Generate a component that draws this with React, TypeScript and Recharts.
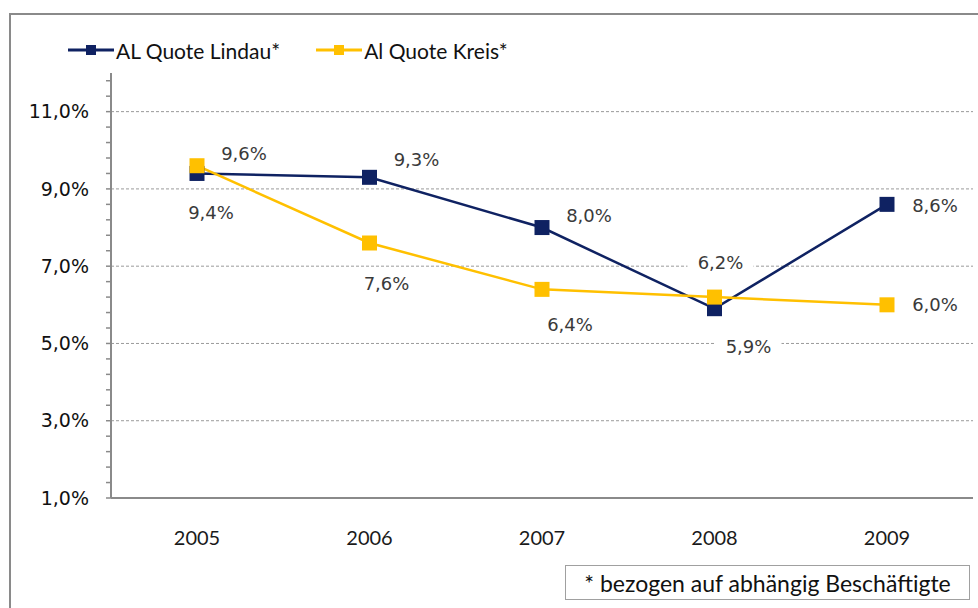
import React from 'react';
import { LineChart, Line, XAxis, YAxis, Legend, ReferenceLine } from 'recharts';

const years = ['2005', '2006', '2007', '2008', '2009'];
const lindau = [9.4, 9.3, 8.0, 5.9, 8.6];
const kreis = [9.6, 7.6, 6.4, 6.2, 6.0];
const yTicks = [1, 1.4, 1.8, 2.2, 2.6, 3, 3.4, 3.8, 4.2, 4.6, 5, 5.4, 5.8, 6.2, 6.6, 7, 7.4, 7.8, 8.2, 8.6, 9, 9.4, 9.8, 10.2, 10.6, 11, 11.4, 11.8];
const majorTicks = [1, 3, 5, 7, 9, 11];
const gridTicks = [3, 5, 7, 9, 11];
const boundaryTicks = [0, 1, 2, 3, 4, 5];
const seriesNames = ['AL Quote Lindau*', 'Al Quote Kreis*'];
const footnote = '* bezogen auf abhängig Beschäftigte';

const NAVY = '#0f2262';
const YELLOW = '#ffc000';

// label placement offsets (style only)
const lindauLabelOffsets = [[14, 39], [47, -18], [47, -12], [34, 38], [48, 1]];
const kreisLabelOffsets = [[47, -12], [17, 40], [28, 35], [6, -35], [48, 0]];

const data = years.map((year, i) => ({ year, lindau: lindau[i], kreis: kreis[i] }));

const fmt = (v: number) => v.toFixed(1).replace('.', ',') + '%';

const makeDot = (color: string, size: number) => (props: any) => {
  const { cx, cy, index } = props;
  if (cx == null || cy == null) return <g key={index} />;
  return <rect key={index} x={cx - size / 2} y={cy - size / 2} width={size} height={size} fill={color} />;
};

const makeLabel = (offs: number[][]) => (props: any) => {
  const { index, value } = props;
  const x = props.x ?? props.viewBox?.x;
  const y = props.y ?? props.viewBox?.y;
  if (x == null || y == null || value == null) return <g key={index} />;
  const [dx, dy] = offs[index] || [0, 0];
  return (
    <g key={index}>
      <rect x={x + dx - 33} y={y + dy - 12} width={66} height={24} fill="#ffffff" />
      <text x={x + dx} y={y + dy} textAnchor="middle" dominantBaseline="central"
        fontFamily="'DejaVu Sans', Verdana, sans-serif" fontSize={18} fill="#3a3a3a">
        {fmt(Number(value))}
      </text>
    </g>
  );
};

const LegendIcon = ({ color }: { color: string }) => (
  <svg width={46} height={14} style={{ display: 'block', marginRight: 2 }}>
    <line x1={0} y1={7} x2={46} y2={7} stroke={color} strokeWidth={3} />
    <rect x={18} y={2} width={10} height={10} fill={color} />
  </svg>
);

const renderLegend = () => (
  <div style={{ display: 'flex', alignItems: 'center', height: 40, fontFamily: 'Lato, sans-serif', fontSize: 21, color: '#111' }}>
    <div style={{ display: 'flex', alignItems: 'center', marginRight: 36 }}>
      <LegendIcon color={NAVY} />
      <span>{seriesNames[0]}</span>
    </div>
    <div style={{ display: 'flex', alignItems: 'center' }}>
      <LegendIcon color={YELLOW} />
      <span>{seriesNames[1]}</span>
    </div>
  </div>
);

export default function App() {
  return (
    <div style={{ position: 'absolute', left: 0, top: 0, width: 978, height: 608, background: '#fff', overflow: 'hidden' }}>
      <div style={{ position: 'absolute', left: 9, top: 13, width: 990, height: 620, borderLeft: '2px solid #8a8a8a', borderTop: '2px solid #8a8a8a', boxSizing: 'border-box' }} />
      <div style={{ position: 'absolute', left: 0, top: 0 }}>
        <LineChart width={978} height={608} data={data} margin={{ top: 33, right: 5, bottom: 0, left: 0 }}>
          <Legend verticalAlign="top" align="left" content={renderLegend}
            wrapperStyle={{ top: 30, left: 68, width: 560, height: 40 }} />
          <XAxis xAxisId="b" type="number" domain={[0, 5]} ticks={boundaryTicks} allowDataOverflow
            tick={false} tickSize={6} height={1}
            axisLine={{ stroke: '#8a8a8a', strokeWidth: 2 }} tickLine={{ stroke: '#8a8a8a', strokeWidth: 2 }} />
          <XAxis xAxisId="cat" dataKey="year" padding={{ left: 86, right: 86 }} axisLine={false} tickLine={false}
            height={109} tickMargin={26} interval={0}
            tick={{ fontFamily: 'Lato, sans-serif', fontSize: 20, fill: '#1a1a1a' }} />
          <YAxis yAxisId="y" width={111} domain={[1, 12]} ticks={yTicks} interval={0} allowDataOverflow
            tickFormatter={(v: number) => (majorTicks.includes(v) ? fmt(v) : '')}
            tickSize={5} tickMargin={17}
            axisLine={{ stroke: '#8a8a8a', strokeWidth: 2 }} tickLine={{ stroke: '#8a8a8a', strokeWidth: 1.5 }}
            tick={{ fontFamily: "'DejaVu Sans', Verdana, sans-serif", fontSize: 19, fill: '#111' }} />
          {gridTicks.map((v) => (
            <ReferenceLine key={v} xAxisId="cat" yAxisId="y" y={v} stroke="#9a9a9a" strokeDasharray="3 2" />
          ))}
          <Line xAxisId="cat" yAxisId="y" type="linear" dataKey="lindau" name={seriesNames[0]} stroke={NAVY} strokeWidth={2.5}
            dot={makeDot(NAVY, 15)} activeDot={false} isAnimationActive={false} label={makeLabel(lindauLabelOffsets)} />
          <Line xAxisId="cat" yAxisId="y" type="linear" dataKey="kreis" name={seriesNames[1]} stroke={YELLOW} strokeWidth={2.5}
            dot={makeDot(YELLOW, 15)} activeDot={false} isAnimationActive={false} label={makeLabel(kreisLabelOffsets)} />
        </LineChart>
      </div>
      <div style={{ position: 'absolute', left: 565, top: 565, width: 405, height: 35, boxSizing: 'border-box', border: '1px solid #a0a0a0', background: '#fff',
        display: 'flex', alignItems: 'center', justifyContent: 'center', fontFamily: 'Lato, sans-serif', fontSize: 23, color: '#111' }}>
        {footnote}
      </div>
    </div>
  );
}
